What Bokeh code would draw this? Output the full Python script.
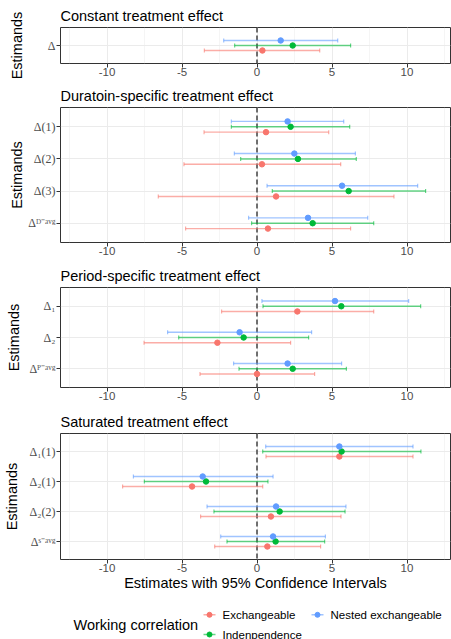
import math
from bokeh.plotting import figure
from bokeh.models import Range1d, FixedTicker
from bokeh.models import Span
from bokeh.layouts import column
from bokeh.embed import file_html
from bokeh.resources import INLINE
from bokeh.core.properties import value

# ---------------- data ----------------
SERIES = ["Exchangeable", "Indenpendence", "Nested exchangeable"]
COLORS = ["#F8766D", "#00BA38", "#619CFF"]
DODGE = [-0.167, 0.0, 0.167]

PANEL_TITLES = ["Constant treatment effect",
                "Duratoin-specific treatment effect",
                "Period-specific treatment effect",
                "Saturated treatment effect"]

# estimand labels, top to bottom
CONST_TICKS = ["Δ"]
DUR_TICKS = ["Δ(1)", "Δ(2)", "Δ(3)", "Δᴰ⁻ᵃᵛᵍ"]
PER_TICKS = ["Δ₁", "Δ₂", "Δᴾ⁻ᵃᵛᵍ"]
SAT_TICKS = ["Δ₁(1)", "Δ₂(1)", "Δ₂(2)", "Δˢ⁻ᵃᵛᵍ"]

# Constant
CONST_EXCH_EST = [0.36]
CONST_EXCH_LO = [-3.51]
CONST_EXCH_HI = [4.18]
CONST_IND_EST = [2.38]
CONST_IND_LO = [-1.49]
CONST_IND_HI = [6.24]
CONST_NEST_EST = [1.58]
CONST_NEST_LO = [-2.22]
CONST_NEST_HI = [5.38]

# Duration-specific: Δ(1), Δ(2), Δ(3), Δ^D-avg
DUR_EXCH_EST = [0.60, 0.33, 1.27, 0.73]
DUR_EXCH_LO = [-3.53, -4.87, -6.58, -4.76]
DUR_EXCH_HI = [4.78, 5.58, 9.13, 6.24]
DUR_IND_EST = [2.24, 2.73, 6.11, 3.71]
DUR_IND_LO = [-1.71, -1.09, 1.02, -0.36]
DUR_IND_HI = [6.18, 6.62, 11.24, 7.78]
DUR_NEST_EST = [2.04, 2.49, 5.67, 3.40]
DUR_NEST_LO = [-1.71, -1.51, 0.67, -0.56]
DUR_NEST_HI = [5.78, 6.56, 10.71, 7.38]

# Period-specific: Δ1, Δ2, Δ^P-avg
PER_EXCH_EST = [2.69, -2.64, 0.00]
PER_EXCH_LO = [-2.36, -7.53, -3.80]
PER_EXCH_HI = [7.78, 2.24, 3.84]
PER_IND_EST = [5.62, -0.89, 2.38]
PER_IND_LO = [0.40, -5.22, -1.20]
PER_IND_HI = [10.91, 3.44, 5.96]
PER_NEST_EST = [5.20, -1.16, 2.04]
PER_NEST_LO = [0.33, -5.96, -1.56]
PER_NEST_HI = [10.11, 3.64, 5.64]

# Saturated: Δ1(1), Δ2(1), Δ2(2), Δ^S-avg
SAT_EXCH_EST = [5.49, -4.33, 0.93, 0.69]
SAT_EXCH_LO = [0.60, -8.96, -3.76, -2.82]
SAT_EXCH_HI = [10.40, 0.38, 5.60, 4.24]
SAT_IND_EST = [5.64, -3.40, 1.51, 1.24]
SAT_IND_LO = [0.38, -7.51, -2.87, -2.00]
SAT_IND_HI = [10.93, 0.73, 5.87, 4.51]
SAT_NEST_EST = [5.49, -3.62, 1.27, 1.07]
SAT_NEST_LO = [0.58, -8.24, -3.33, -2.42]
SAT_NEST_HI = [10.40, 1.07, 5.93, 4.56]

X_TICKS = [-10, -5, 0, 5, 10]
X_MINOR = [-12.5, -7.5, -2.5, 2.5, 7.5, 12.5]
X_LABELS = {-10: "-10", -5: "-5", 0: "0", 5: "5", 10: "10"}

# ---------------- style ----------------
SANS = "Liberation Sans"
SERIF = "Liberation Serif"
XMIN, XMAX = -13.1, 12.9


def make_panel(title, ticks, series, height, top, bottom, ylab_standoff, last=False):
    n = len(ticks)
    p = figure(width=451, height=height, x_range=Range1d(XMIN, XMAX),
               y_range=Range1d(0.4, n + 0.6), output_backend="svg",
               toolbar_location=None, min_border_left=60, min_border_right=1,
               min_border_top=top, min_border_bottom=bottom, title=title)
    p.title.text_font = SANS
    p.title.text_font_size = "14.5px"
    p.title.text_font_style = "normal"
    p.title.text_color = "black"
    p.title.align = "left"
    p.title.standoff = 8
    p.background_fill_color = "white"
    p.border_fill_color = "white"
    p.outline_line_color = "#333333"
    p.outline_line_width = 1
    # x axis
    xt = FixedTicker(ticks=X_TICKS, minor_ticks=X_MINOR)
    p.xaxis.ticker = xt
    p.xaxis.major_label_overrides = X_LABELS
    p.xaxis.major_label_text_font = SANS
    p.xaxis.major_label_text_font_size = "11.5px"
    p.xaxis.major_label_text_color = "#4D4D4D"
    p.xaxis.major_label_standoff = 0
    p.xaxis.major_tick_out = 4
    p.xaxis.major_tick_in = 0
    p.xaxis.minor_tick_out = 0
    p.xaxis.minor_tick_in = 0
    p.xaxis.major_tick_line_color = "#333333"
    p.xaxis.axis_line_color = None
    p.xgrid.ticker = xt
    p.xgrid.grid_line_color = "#EBEBEB"
    p.xgrid.grid_line_width = 1
    p.xgrid.minor_grid_line_color = "#EBEBEB"
    p.xgrid.minor_grid_line_width = 0.5
    if last:
        p.xaxis.axis_label = "Estimates with 95% Confidence Intervals"
        p.xaxis.axis_label_text_font = SANS
        p.xaxis.axis_label_text_font_size = "14.5px"
        p.xaxis.axis_label_text_font_style = "normal"
        p.xaxis.axis_label_text_color = "black"
        p.xaxis.axis_label_standoff = 0
    # y axis (categories top to bottom -> n .. 1)
    yvals = list(range(n, 0, -1))
    yt = FixedTicker(ticks=list(range(1, n + 1)), minor_ticks=[])
    p.yaxis.ticker = yt
    p.yaxis.major_label_overrides = {y: t for y, t in zip(yvals, ticks)}
    p.yaxis.major_label_text_font = SERIF
    p.yaxis.major_label_text_font_size = "12px"
    p.yaxis.major_label_text_color = "#4D4D4D"
    p.yaxis.major_label_standoff = 1
    p.yaxis.major_tick_out = 4
    p.yaxis.major_tick_in = 0
    p.yaxis.minor_tick_out = 0
    p.yaxis.minor_tick_in = 0
    p.yaxis.major_tick_line_color = "#333333"
    p.yaxis.axis_line_color = None
    p.yaxis.axis_label = "Estimands"
    p.yaxis.axis_label_text_font = SANS
    p.yaxis.axis_label_text_font_size = "14.5px"
    p.yaxis.axis_label_text_font_style = "normal"
    p.yaxis.axis_label_text_color = "black"
    p.yaxis.axis_label_standoff = ylab_standoff
    p.ygrid.ticker = yt
    p.ygrid.grid_line_color = "#EBEBEB"
    p.ygrid.grid_line_width = 1

    p.add_layout(Span(location=0, dimension="height", line_color="#4D4D4D",
                      line_width=1.6, line_dash="5 3", level="underlay"))

    for (est, lo, hi), col, dg in zip(series, COLORS, DODGE):
        ys = [y + dg for y in yvals]
        p.segment(x0=lo, y0=ys, x1=hi, y1=ys, line_color=col, line_alpha=0.6,
                  line_width=1.4)
        p.scatter(x=lo + hi, y=ys + ys, marker="dash", angle=math.pi / 2,
                  size=4, line_color=col, line_alpha=0.6, line_width=1.2)
        p.scatter(x=est, y=ys, size=5.5, fill_color=col, line_color=col)
    return p


p1 = make_panel(PANEL_TITLES[0], CONST_TICKS,
                [(CONST_EXCH_EST, CONST_EXCH_LO, CONST_EXCH_HI),
                 (CONST_IND_EST, CONST_IND_LO, CONST_IND_HI),
                 (CONST_NEST_EST, CONST_NEST_LO, CONST_NEST_HI)],
                81, 27, 18, 20)
p2 = make_panel(PANEL_TITLES[1], DUR_TICKS,
                [(DUR_EXCH_EST, DUR_EXCH_LO, DUR_EXCH_HI),
                 (DUR_IND_EST, DUR_IND_LO, DUR_IND_HI),
                 (DUR_NEST_EST, DUR_NEST_LO, DUR_NEST_HI)],
                180, 26, 19, 0)
p3 = make_panel(PANEL_TITLES[2], PER_TICKS,
                [(PER_EXCH_EST, PER_EXCH_LO, PER_EXCH_HI),
                 (PER_IND_EST, PER_IND_LO, PER_IND_HI),
                 (PER_NEST_EST, PER_NEST_LO, PER_NEST_HI)],
                146, 26, 20, 4)
p4 = make_panel(PANEL_TITLES[3], SAT_TICKS,
                [(SAT_EXCH_EST, SAT_EXCH_LO, SAT_EXCH_HI),
                 (SAT_IND_EST, SAT_IND_LO, SAT_IND_HI),
                 (SAT_NEST_EST, SAT_NEST_LO, SAT_NEST_HI)],
                190, 26, 38, 7, last=True)

# ---------------- legend (frame aligns with panel frames: x 60..450) ----------------
leg = figure(width=451, height=42, x_range=Range1d(60, 450), y_range=Range1d(42, 0),
             output_backend="svg", toolbar_location=None, min_border=0,
             min_border_left=60, min_border_right=1,
             x_axis_type=None, y_axis_type=None)
leg.outline_line_color = None
leg.background_fill_color = "white"
leg.border_fill_color = "white"
key_x = [209, 209, 317]
key_y = [17.3, 37, 17.3]
for name, col, kx, ky in zip(SERIES, COLORS, key_x, key_y):
    leg.segment(x0=[kx - 6], y0=[ky], x1=[kx + 6], y1=[ky], line_color=col,
                line_alpha=0.6, line_width=1.5)
    leg.scatter(x=[kx], y=[ky], size=5, fill_color=col, line_color=col)
    leg.text(x=[kx + 13], y=[ky], text=[name], text_font=value(SANS),
             text_font_size=value("11.5px"), text_baseline="middle",
             text_align="left", text_color="black")
leg.text(x=[73], y=[27], text=["Working correlation"], text_font=value(SANS),
         text_font_size=value("14.5px"), text_baseline="middle",
         text_align="left", text_color="black")

layout = column(p1, p2, p3, p4, leg)
open("out.html", "w").write(file_html(layout, INLINE))
